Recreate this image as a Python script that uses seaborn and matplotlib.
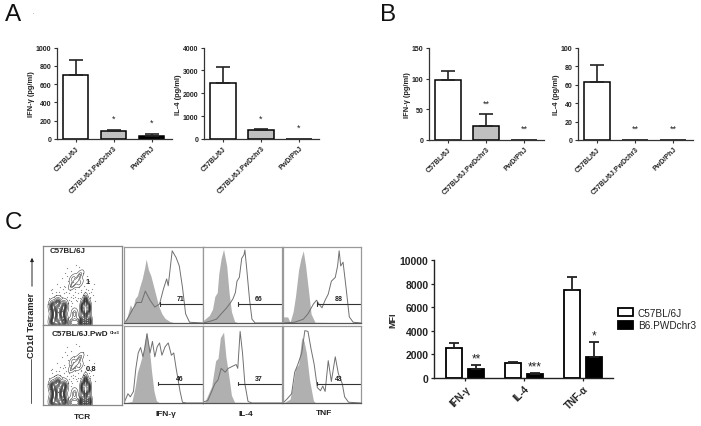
import matplotlib
matplotlib.use('Agg')
import matplotlib.pyplot as plt
import pandas as pd
import seaborn as sns

W, H = 701, 427

strains = ['C57BL/6J', 'C57BL/6J.PwDchr3', 'PwD/PhJ']

a_ifn_vals = [695, 85, 35]
a_ifn_tops = [860, 100, 55]
a_ifn_stars = ['', '*', '*']
a_ifn_star_y = [0, 230, 187]

a_il4_vals = [2450, 385, 0]
a_il4_tops = [3130, 420, 0]
a_il4_stars = ['', '*', '*']
a_il4_star_y = [0, 918, 495]

b_ifn_vals = [98, 23, 0]
b_ifn_tops = [113, 42, 0]
b_ifn_stars = ['', '**', '**']
b_ifn_star_y = [0, 60, 19]

b_il4_vals = [63, 0, 0]
b_il4_tops = [81, 0, 0]
b_il4_stars = ['', '**', '**']
b_il4_star_y = [0, 13, 13]

mfi_cats = ['IFN-γ', 'IL-4', 'TNF-α']
mfi_wt = [2560, 1270, 7490]
mfi_wt_tops = [2960, 1350, 8590]
mfi_ko = [730, 370, 1750]
mfi_ko_tops = [1100, 450, 3010]
mfi_stars = ['**', '***', '*']
mfi_star_y = [1660, 1010, 3600]

ifn1_fill_x = [0, 4, 8, 11, 14, 17, 20, 23, 26, 28, 31, 34, 37, 40, 44, 48, 52, 58, 65, 100]
ifn1_fill_y = [1, 8, 24, 18, 32, 36, 48, 58, 72, 84, 70, 62, 50, 38, 22, 12, 6, 2, 0, 0]
ifn1_line_x = [0, 3, 10, 16, 22, 27, 33, 39, 45, 50, 54, 56, 61, 66, 70, 74, 78, 83, 100]
ifn1_line_y = [1, 3, 16, 27, 27, 42, 30, 21, 25, 45, 58, 49, 95, 86, 75, 47, 12, 1, 0]
ifn2_fill_x = [0, 5, 10, 14, 17, 20, 24, 26, 29, 32, 35, 38, 41, 45, 100]
ifn2_fill_y = [0, 1, 2, 20, 40, 50, 65, 80, 92, 70, 40, 15, 3, 0, 0]
ifn2_line_x = [0, 5, 8, 12, 15, 18, 21, 24, 27, 29, 33, 36, 39, 42, 45, 48, 52, 56, 60, 63, 66, 71, 74, 79, 100]
ifn2_line_y = [0, 12, 8, 15, 45, 65, 72, 60, 75, 90, 65, 80, 60, 73, 78, 62, 73, 78, 62, 65, 45, 15, 1, 0, 0]

il41_fill_x = [0, 8, 12, 15, 18, 20, 23, 26, 30, 33, 36, 40, 45, 100]
il41_fill_y = [3, 10, 18, 35, 40, 65, 85, 97, 75, 40, 15, 2, 0, 0]
il41_line_x = [0, 8, 17, 23, 30, 35, 38, 41, 43, 46, 49, 52, 53, 55, 59, 62, 66, 100]
il41_line_y = [0, 2, 5, 12, 20, 27, 32, 40, 55, 60, 85, 90, 96, 75, 30, 5, 0, 0]
il42_fill_x = [0, 2, 6, 11, 16, 19, 22, 26, 29, 32, 36, 40, 100]
il42_fill_y = [0, 1, 10, 22, 55, 58, 85, 92, 60, 40, 10, 1, 0]
il42_line_x = [0, 2, 6, 11, 15, 19, 23, 28, 32, 36, 42, 44, 47, 50, 53, 57, 62, 100]
il42_line_y = [0, 2, 3, 15, 25, 30, 45, 40, 45, 47, 50, 45, 93, 65, 25, 2, 0, 0]

tnf1_fill_x = [0, 6, 9, 13, 16, 20, 23, 26, 29, 33, 36, 41, 100]
tnf1_fill_y = [8, 8, 1, 15, 35, 70, 85, 95, 75, 40, 12, 1, 0]
tnf1_line_x = [0, 15, 26, 32, 39, 43, 46, 50, 54, 58, 62, 67, 70, 72, 74, 77, 81, 85, 90, 100]
tnf1_line_y = [0, 1, 5, 12, 25, 30, 25, 20, 30, 38, 55, 60, 75, 95, 75, 80, 45, 8, 1, 0]
tnf2_fill_x = [0, 2, 9, 13, 16, 20, 24, 27, 30, 34, 39, 42, 100]
tnf2_fill_y = [0, 1, 5, 25, 45, 50, 85, 80, 65, 30, 3, 0, 0]
tnf2_line_x = [0, 5, 11, 15, 19, 24, 28, 32, 36, 40, 44, 48, 51, 54, 58, 62, 67, 71, 76, 79, 84, 100]
tnf2_line_y = [0, 5, 12, 40, 50, 65, 94, 93, 70, 50, 20, 16, 22, 15, 55, 28, 60, 38, 25, 8, 1, 0]

gate_starts = [[46, 43], [44, 44], [43, 43]]
gate_labels = [['71', '46'], ['66', '37'], ['88', '43']]

# contour plot clusters, % of box
left_x = [12, 12, 19, 19, 27, 27, 15, 24]
left_y = [4, 24, 1, 28, 4, 24, 14, 14]
mid_x = [36, 40, 44, 40]
mid_y = [3, 3, 3, 14]
right_x = [49, 54, 59, 54, 54, 50, 58]
right_y = [4, 1, 4, 16, 30, 22, 22]
nkt1_x = [37, 40, 44, 47, 38, 46]
nkt1_y = [50, 54, 58, 64, 59, 53]
nkt2_x = [37, 40, 44, 47, 38, 46]
nkt2_y = [46, 50, 54, 60, 55, 49]
stray_x = [12, 18, 24, 28, 32, 36, 40, 44, 48, 52, 56, 20, 26, 30, 34, 38, 46, 50, 58, 62,
           30, 34, 38, 24, 28, 42, 52, 58, 16, 10, 8, 66, 64, 36, 31, 27, 33, 41, 55, 60,
           14, 22, 29, 35, 37, 43, 47, 49, 53, 57, 61, 25, 33, 21, 17, 39, 45, 51, 59, 63,
           6, 12, 9, 32, 36, 38, 40, 42, 44, 48]
stray_y = [45, 52, 60, 48, 56, 68, 42, 40, 44, 50, 62, 42, 40, 62, 44, 38, 74, 66, 56, 45,
           72, 50, 54, 34, 66, 76, 38, 40, 38, 44, 34, 30, 52, 30, 36, 50, 40, 46, 46, 36,
           36, 38, 42, 36, 28, 30, 34, 28, 42, 44, 42, 46, 32, 48, 42, 60, 48, 38, 34, 38,
           26, 40, 20, 28, 24, 34, 36, 32, 34, 42]

sns.set_theme(style='white')
plt.rcParams['font.family'] = ['Liberation Sans', 'DejaVu Sans']
plt.rcParams['axes.unicode_minus'] = False


def axes_px(fig, left, top, right, bottom):
    return fig.add_axes([left / W, 1 - bottom / H, (right - left) / W, (bottom - top) / H])


def strain_bars(fig, box, c0, spacing, vals, tops, ylim, ticks, ylabel, stars, star_y):
    left, top, right, bottom = box
    ax = axes_px(fig, *box)
    df = pd.DataFrame({'strain': strains, 'val': vals})
    sns.barplot(data=df, x='strain', y='val', hue='strain', palette=['white', '#c0c0c0', 'black'],
                width=0.66, saturation=1, edgecolor='black', linewidth=1.1, legend=False, ax=ax)
    for i in range(3):
        if tops[i] > vals[i]:
            ax.errorbar(i, vals[i], yerr=[[0], [tops[i] - vals[i]]], color='#222222', lw=1.2,
                        capsize=5, capthick=1.2)
    ax.set_xlim(-(c0 - left) / spacing, (right - c0) / spacing)
    ax.set_ylim(0, ylim)
    ax.set_yticks(ticks)
    ax.set_xticks(range(3))
    ax.set_xticklabels(strains, rotation=45, ha='right', rotation_mode='anchor', fontsize=5, fontweight='bold', color='#222222')
    ax.tick_params(axis='both', length=2.5, width=0.8, pad=1.5, bottom=True, left=True, color='#333333')
    for t in ax.get_yticklabels():
        t.set_fontsize(5)
        t.set_fontweight('bold')
        t.set_color('#222222')
    ax.set_xlabel('')
    ax.set_ylabel(ylabel, fontsize=5.4, fontweight='bold', labelpad=0.5, color='#222222')
    sns.despine(ax=ax)
    for s in ['left', 'bottom']:
        ax.spines[s].set_linewidth(0.9)
        ax.spines[s].set_color('#333333')
    for i, s in enumerate(stars):
        if s:
            ax.text(i, star_y[i], s, ha='center', va='center', fontsize=6.5, color='#222222')
    ax.patch.set_alpha(0)
    return ax


def hist_panel(fig, box, fill_x, fill_y, line_x, line_y, gate_start, label):
    ax = axes_px(fig, *box)
    ax.fill_between(fill_x, fill_y, color='#b0b0b0', lw=0)
    sns.lineplot(x=line_x, y=line_y, sort=False, estimator=None, color='#707070', lw=0.7, ax=ax)
    ax.plot([gate_start, 100], [25, 25], color='#333333', lw=0.8)
    ax.plot([gate_start, gate_start], [23, 27], color='#333333', lw=0.8)
    ax.text(71, 27, label, ha='center', va='bottom', fontsize=5, fontweight='bold', color='#222222')
    ax.set_xlim(0, 100)
    ax.set_ylim(0, 100)
    ax.set_xticks([])
    ax.set_yticks([])
    for s in ax.spines.values():
        s.set_color('#999999')
        s.set_linewidth(0.9)
    ax.spines['bottom'].set_color('#555555')


def contour_panel(fig, box, nkt_x, nkt_y, label, label_x, label_y):
    ax = axes_px(fig, *box)
    sns.scatterplot(x=stray_x, y=stray_y, s=0.8, color='#888888', linewidth=0, ax=ax)
    for xs, ys, n, bw in [(left_x, left_y, 12, 0.7), (mid_x, mid_y, 5, 0.85), (right_x, right_y, 12, 0.7),
                          (nkt_x, nkt_y, 4, 0.8)]:
        sns.kdeplot(x=xs, y=ys, levels=n, thresh=0.05, bw_adjust=bw, color='#2a2a2a', linewidths=0.35, ax=ax)
    ax.set_xlim(0, 100)
    ax.set_ylim(0, 100)
    ax.set_xticks([])
    ax.set_yticks([])
    ax.set_xlabel('')
    ax.set_ylabel('')
    for s in ax.spines.values():
        s.set_color('#888888')
        s.set_linewidth(0.9)
    ax.text(label_x, label_y, label, fontsize=5.5, fontweight='bold', ha='center', va='center', color='#222222')
    return ax


fig = plt.figure(figsize=(W / 100, H / 100), dpi=100)

strain_bars(fig, (57, 48.5, 172, 140), 75.5, 38, a_ifn_vals, a_ifn_tops, 1000,
            [0, 200, 400, 600, 800, 1000], 'IFN-γ (pg/ml)', a_ifn_stars, a_ifn_star_y)
strain_bars(fig, (204, 48.5, 319, 140), 223, 38, a_il4_vals, a_il4_tops, 4000,
            [0, 1000, 2000, 3000, 4000], 'IL-4 (pg/ml)', a_il4_stars, a_il4_star_y)
strain_bars(fig, (429, 49, 544, 141), 448, 38, b_ifn_vals, b_ifn_tops, 150,
            [0, 50, 100, 150], 'IFN-γ (pg/ml)', b_ifn_stars, b_ifn_star_y)
strain_bars(fig, (578, 49, 693, 141), 597, 38, b_il4_vals, b_il4_tops, 100,
            [0, 20, 40, 60, 80, 100], 'IL-4 (pg/ml)', b_il4_stars, b_il4_star_y)

# flow panels
contour_panel(fig, (43, 247, 122, 326), nkt1_x, nkt1_y, '1', 57, 55)
contour_panel(fig, (43, 326, 122, 406), nkt2_x, nkt2_y, '0.8', 61, 45)
fig.text(50 / W, 1 - 252 / H, 'C57BL/6J', fontsize=5.7, fontweight='bold', va='center', color='#222222')
fig.text(52 / W, 1 - 335 / H, 'C57BL/6J.PwD', fontsize=5.9, fontweight='bold', va='center', color='#222222')
fig.text(110 / W, 1 - 333.5 / H, 'Chr3', fontsize=3.2, fontweight='bold', va='center', color='#222222')

hist_panel(fig, (124, 248, 203, 324), ifn1_fill_x, ifn1_fill_y, ifn1_line_x, ifn1_line_y, gate_starts[0][0], gate_labels[0][0])
hist_panel(fig, (124, 327, 203, 404), ifn2_fill_x, ifn2_fill_y, ifn2_line_x, ifn2_line_y, gate_starts[0][1], gate_labels[0][1])
hist_panel(fig, (203, 248, 282, 324), il41_fill_x, il41_fill_y, il41_line_x, il41_line_y, gate_starts[1][0], gate_labels[1][0])
hist_panel(fig, (203, 327, 282, 404), il42_fill_x, il42_fill_y, il42_line_x, il42_line_y, gate_starts[1][1], gate_labels[1][1])
hist_panel(fig, (283, 248, 361, 324), tnf1_fill_x, tnf1_fill_y, tnf1_line_x, tnf1_line_y, gate_starts[2][0], gate_labels[2][0])
hist_panel(fig, (283, 327, 361, 404), tnf2_fill_x, tnf2_fill_y, tnf2_line_x, tnf2_line_y, gate_starts[2][1], gate_labels[2][1])

for x, y, s in [(82, 418, 'TCR'), (166, 415, 'IFN-γ'), (246, 415, 'IL-4'), (324, 414, 'TNF')]:
    fig.text(x / W, 1 - y / H, s, fontsize=6, fontweight='bold', ha='center', va='center', color='#222222')
fig.text(32 / W, 1 - 325 / H, 'CD1d Tetramer', fontsize=6.6, fontweight='bold', rotation=90,
         ha='center', va='center', color='#222222')
bg = fig.add_axes([0, 0, 1, 1], zorder=-1)
bg.set_xlim(0, W)
bg.set_ylim(H, 0)
bg.axis('off')
bg.annotate('', xy=(32, 256), xytext=(32, 290), arrowprops=dict(arrowstyle='-|>', lw=0.7, color='#222222', mutation_scale=5))
bg.plot([31, 31], [360, 404], color='#555555', lw=0.7)

# MFI bars
ax = axes_px(fig, 434, 261, 613, 379)
mfi_df = pd.DataFrame({'cat': mfi_cats * 2, 'strain': ['C57BL/6J'] * 3 + ['B6.PWDchr3'] * 3, 'val': mfi_wt + mfi_ko})
sns.barplot(data=mfi_df, x='cat', y='val', hue='strain', palette=['white', 'black'], width=0.746, gap=0.27,
            saturation=1, edgecolor='black', linewidth=1.3, ax=ax)
offset = 0.186
for i in range(3):
    ax.errorbar(i - offset, mfi_wt[i], yerr=[[0], [mfi_wt_tops[i] - mfi_wt[i]]], color='#222222', lw=1.3, capsize=3.8, capthick=1.3)
    ax.errorbar(i + offset, mfi_ko[i], yerr=[[0], [mfi_ko_tops[i] - mfi_ko[i]]], color='#222222', lw=1.3, capsize=3.8, capthick=1.3)
    ax.text(i + offset, mfi_star_y[i], mfi_stars[i], ha='center', va='center', fontsize=8.5, color='#222222')
ax.set_xlim(-(465 - 434) / 59, (613 - 465) / 59)
ax.set_ylim(0, 10000)
ax.set_yticks([0, 2000, 4000, 6000, 8000, 10000])
ax.set_xticks(range(3))
ax.set_xticklabels(mfi_cats, rotation=45, ha='right', rotation_mode='anchor', fontsize=7, fontweight='bold', color='#222222')
ax.tick_params(axis='both', length=2.5, width=0.9, pad=1.5, bottom=True, left=True, color='#222222')
for t in ax.get_yticklabels():
    t.set_fontsize(7.5)
    t.set_fontweight('bold')
    t.set_color('#222222')
ax.set_xlabel('')
ax.set_ylabel('MFI', fontsize=6.5, fontweight='bold', labelpad=2, color='#222222')
sns.despine(ax=ax)
for s in ['left', 'bottom']:
    ax.spines[s].set_linewidth(1)
    ax.spines[s].set_color('#222222')
sns.move_legend(ax, 'center left', bbox_to_anchor=(1.0, 0.5), frameon=False, title=None, fontsize=7.2,
                handlelength=1.45, handleheight=0.9, handletextpad=0.55, labelspacing=0.25, borderaxespad=0.1, labelcolor='#222222')

# panel letters
for x, y, s in [(13, 15, 'A'), (388, 15, 'B'), (13, 223, 'C')]:
    fig.text(x / W, 1 - y / H, s, fontsize=17.5, ha='center', va='center', color='#111111')
fig.text(33 / W, 1 - 12 / H, '.', fontsize=4, ha='center', va='center', color='#444444')

fig.savefig('out.png', dpi=100)
